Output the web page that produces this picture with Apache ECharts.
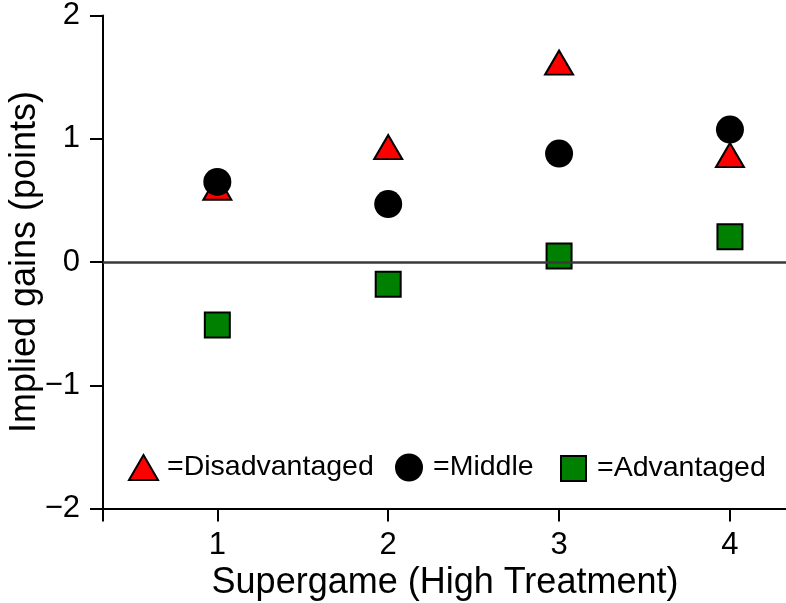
<!DOCTYPE html>
<html>
<head>
<meta charset="utf-8">
<script src="https://cdn.jsdelivr.net/npm/echarts@6/dist/echarts.min.js"></script>
<style>
html,body{margin:0;padding:0;background:#fff;}
#chart{width:786px;height:603px;}
</style>
</head>
<body>
<div id="chart"></div>
<script>
const supergames = [1, 2, 3, 4];
const disadvantaged = [0.57, 0.90, 1.585, 0.835];
const middle = [0.65, 0.47, 0.88, 1.075];
const advantaged = [-0.51, -0.18, 0.05, 0.205];
const xTickLabels = [1, 2, 3, 4];
const yTickLabels = [-2, -1, 0, 1, 2];
const seriesNames = ['=Disadvantaged', '=Middle', '=Advantaged'];
const xTitle = 'Supergame (High Treatment)';
const yTitle = 'Implied gains (points)';

const FONT = '"Liberation Sans", Arial, Helvetica, sans-serif';
const X_MIN = 0.331, X_MAX = 4.328;

function pairs(vals) { return supergames.map((x, i) => [x, vals[i]]); }

const chart = echarts.init(document.getElementById('chart'), null, {renderer: 'canvas'});
chart.setOption({
  animation: false,
  backgroundColor: '#ffffff',
  grid: {left: 103, right: 0, top: 15.4, bottom: 94.4, containLabel: false},
  xAxis: {
    type: 'value', min: X_MIN, max: X_MAX,
    splitLine: {show: false},
    axisLine: {show: true, onZero: false, lineStyle: {color: '#000', width: 2}},
    axisTick: {show: true, length: 13, lineStyle: {color: '#000', width: 2}, customValues: [X_MIN].concat(xTickLabels)},
    axisLabel: {show: true, customValues: xTickLabels, margin: 21, color: '#000', fontSize: 31, fontFamily: FONT}
  },
  yAxis: {
    type: 'value', min: -2, max: 2, interval: 1,
    splitLine: {show: false},
    axisLine: {show: true, onZero: false, lineStyle: {color: '#000', width: 2}},
    axisTick: {show: true, length: 13, lineStyle: {color: '#000', width: 2}, customValues: yTickLabels},
    axisLabel: {show: true, customValues: yTickLabels, margin: 23, color: '#000', fontSize: 31, fontFamily: FONT,
      formatter: v => (v < 0 ? '\u2212' + Math.abs(v) : String(v))}
  },
  legend: [
    {left: 128, top: 453, padding: 0, icon: 'triangle', itemWidth: 29, itemHeight: 25, data: [seriesNames[0]],
     itemStyle: {borderColor: '#000', borderWidth: 2},
     textStyle: {color: '#000', fontSize: 28.5, fontFamily: FONT, padding: [0, 0, 0, 4]}},
    {left: 395, top: 453, padding: 0, icon: 'circle', itemWidth: 28, itemHeight: 28, data: [seriesNames[1]],
     itemStyle: {borderWidth: 0},
     textStyle: {color: '#000', fontSize: 28.5, fontFamily: FONT, padding: [0, 0, 0, 5]}},
    {left: 560, top: 454, padding: 0, icon: 'rect', itemWidth: 25, itemHeight: 25, data: [seriesNames[2]],
     itemStyle: {borderColor: '#000', borderWidth: 2},
     textStyle: {color: '#000', fontSize: 28.5, fontFamily: FONT, padding: [0, 0, 0, 6]}}
  ],
  graphic: [
    {type: 'text', x: 25, y: 262, rotation: Math.PI / 2,
     style: {text: yTitle, fill: '#000', font: '36px ' + FONT, textAlign: 'center', textVerticalAlign: 'middle'}},
    {type: 'text', x: 445, y: 583,
     style: {text: xTitle, fill: '#000', font: '36px ' + FONT, textAlign: 'center', textVerticalAlign: 'middle'}}
  ],
  series: [
    {
      name: seriesNames[0], type: 'scatter', z: 2,
      symbol: 'triangle', symbolSize: [28, 24], symbolOffset: [0, -4],
      itemStyle: {color: '#ff0000', borderColor: '#000', borderWidth: 2, opacity: 1},
      data: pairs(disadvantaged),
      markLine: {
        silent: true, symbol: ['none', 'none'], label: {show: false},
        lineStyle: {color: '#3a3a3a', width: 2.5, type: 'solid'},
        data: [{yAxis: 0}]
      }
    },
    {
      name: seriesNames[1], type: 'scatter', z: 3,
      symbol: 'circle', symbolSize: 28,
      itemStyle: {color: '#000000', borderWidth: 0, opacity: 1},
      data: pairs(middle)
    },
    {
      name: seriesNames[2], type: 'scatter', z: 4,
      symbol: 'rect', symbolSize: 25,
      itemStyle: {color: '#008000', borderColor: '#000', borderWidth: 2, opacity: 1},
      data: pairs(advantaged)
    }
  ]
});
</script>
</body>
</html>
